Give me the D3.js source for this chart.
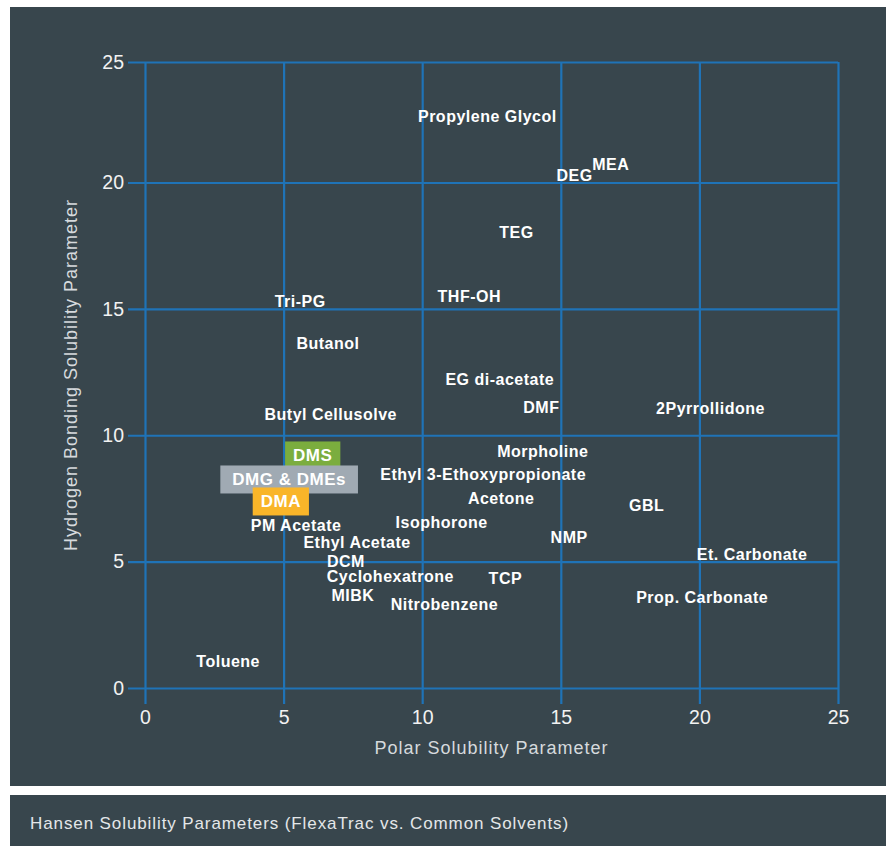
<!DOCTYPE html>
<html>
<head>
<meta charset="utf-8">
<script src="https://cdn.jsdelivr.net/npm/d3@7"></script>
<style>
  body { margin: 0; background: #fff; }
  svg { display: block; }
</style>
</head>
<body>
<div id="viz-container"></div>
<script>
// solvents: label text, polar (x) and hydrogen bonding (y) parameters
const solventNames = ["Propylene Glycol", "DEG", "MEA", "TEG", "THF-OH", "Tri-PG", "Butanol",
  "EG di-acetate", "DMF", "2Pyrrollidone", "Butyl Cellusolve", "Morpholine",
  "Ethyl 3-Ethoxypropionate", "Acetone", "GBL", "Isophorone", "NMP", "Et. Carbonate",
  "PM Acetate", "Ethyl Acetate", "DCM", "Cyclohexatrone", "TCP", "MIBK", "Nitrobenzene",
  "Prop. Carbonate", "Toluene"];
const solventPolar = [12.35, 15.5, 16.8, 13.4, 11.7, 5.6, 6.6, 12.8, 14.3, 20.4, 6.7, 14.35,
  12.2, 12.85, 18.1, 10.7, 15.3, 21.9, 5.45, 7.65, 7.25, 8.85, 13.0, 7.5, 10.8, 20.1, 3.0];
const solventHbond = [22.76, 20.31, 20.77, 18.04, 15.51, 15.31, 13.65, 12.23, 11.12, 11.08, 10.84, 9.38,
  8.47, 7.52, 7.24, 6.57, 5.97, 5.3, 6.45, 5.78, 5.02, 4.43, 4.35, 3.68, 3.32, 3.6, 1.07];

// FlexaTrac products
const productNames = ["DMS", "DMG & DMEs", "DMA"];
const productPolar = [6.05, 5.2, 4.9];
const productHbond = [9.22, 8.27, 7.4];
const productColors = ["#7bad3e", "#a0aab3", "#f9b529"];

const tickValues = [0, 5, 10, 15, 20, 25];

const W = 892, H = 846;
const font = 'Liberation Sans, Arial, sans-serif';
const svg = d3.select('#viz-container')
  .append('svg')
    .attr("width", W)
    .attr("height", H);

svg.append('rect').attr('x', 10).attr('y', 7).attr('width', 876).attr('height', 779).attr('fill', '#38464d');
svg.append('rect').attr('x', 10).attr('y', 795).attr('width', 876).attr('height', 51).attr('fill', '#38464d');

svg.append('text')
  .attr('x', 30).attr('y', 829)
  .attr('fill', '#e4e7e9')
  .attr('font-family', font)
  .attr('font-size', 17)
  .attr('letter-spacing', 0.9)
  .text('Hansen Solubility Parameters (FlexaTrac vs. Common Solvents)');

const x = d3.scaleLinear().domain([0, 25]).range([145, 838]);
// the top band of the original grid is a little shorter than the others
const y = d3.scaleLinear().domain([0, 20, 25]).range([688, 182.5, 62]);

const gridColor = '#1f73b7';
const tickOut = 17;

// y axis + horizontal grid
const yAxis = svg.append('g')
  .attr('transform', `translate(${x(0) - tickOut},0)`)
  .call(d3.axisLeft(y).tickValues(tickValues).tickSize(-(x(25) - x(0) + tickOut)).tickPadding(4));
yAxis.select('.domain').remove();
yAxis.selectAll('line').attr('stroke', gridColor).attr('stroke-width', 2.2);
yAxis.selectAll('text')
  .attr('fill', '#f2f2f2')
  .attr('font-family', font)
  .attr('font-size', 19.5);

// x axis + vertical grid
const xAxis = svg.append('g')
  .attr('transform', `translate(0,${y(0) + 16})`)
  .call(d3.axisBottom(x).tickValues(tickValues).tickSize(-(y(0) - y(25) + 16)).tickPadding(6));
xAxis.select('.domain').remove();
xAxis.selectAll('line').attr('stroke', gridColor).attr('stroke-width', 2.2);
xAxis.selectAll('text')
  .attr('fill', '#f2f2f2')
  .attr('font-family', font)
  .attr('font-size', 19.5);

// axis titles
svg.append('text')
  .attr('x', (x(0) + x(25)) / 2).attr('y', 754)
  .attr('text-anchor', 'middle')
  .attr('fill', '#d6dadd')
  .attr('font-family', font)
  .attr('font-size', 18)
  .attr('letter-spacing', 1)
  .text('Polar Solubility Parameter');

svg.append('text')
  .attr('transform', `translate(77,${(y(0) + y(25)) / 2}) rotate(-90)`)
  .attr('text-anchor', 'middle')
  .attr('fill', '#d6dadd')
  .attr('font-family', font)
  .attr('font-size', 18)
  .attr('letter-spacing', 1)
  .text('Hydrogen Bonding Solubility Parameter');

// solvent labels
const solvents = solventNames.map((n, i) => ({name: n, polar: solventPolar[i], hbond: solventHbond[i]}));
svg.append('g').selectAll('text').data(solvents).enter()
  .append('text')
    .attr('x', d => x(d.polar))
    .attr('y', d => y(d.hbond))
    .attr('dy', '0.36em')
    .attr('text-anchor', 'middle')
    .attr('fill', '#ffffff')
    .attr('font-family', font)
    .attr('font-weight', 'bold')
    .attr('font-size', 16)
    .attr('letter-spacing', 0.5)
    .text(d => d.name);

// product boxes
const products = productNames.map((n, i) => ({name: n, polar: productPolar[i], hbond: productHbond[i], color: productColors[i]}));
const pg = svg.append('g').selectAll('g').data(products).enter().append('g');
pg.append('rect').attr('fill', d => d.color);
pg.append('text')
    .attr('x', d => x(d.polar))
    .attr('y', d => y(d.hbond))
    .attr('dy', '0.36em')
    .attr('text-anchor', 'middle')
    .attr('fill', '#ffffff')
    .attr('font-family', font)
    .attr('font-weight', 'bold')
    .attr('font-size', 17)
    .attr('letter-spacing', 0.5)
    .text(d => d.name);
pg.each(function(d) {
  const g = d3.select(this);
  const bb = g.select('text').node().getBBox();
  const padX = d.name.length > 4 ? 12 : 8;
  g.select('rect')
    .attr('x', bb.x - padX)
    .attr('width', bb.width + padX * 2)
    .attr('y', y(d.hbond) - 13.5)
    .attr('height', 28);
});
</script>
</body>
</html>
